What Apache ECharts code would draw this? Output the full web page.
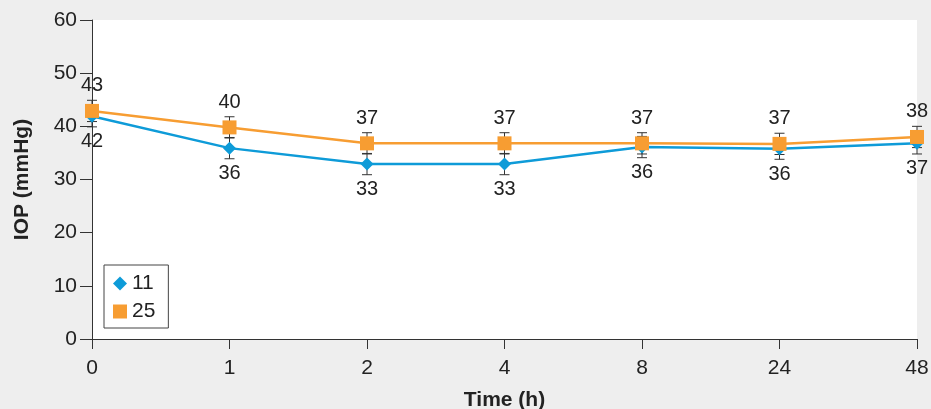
<!DOCTYPE html>
<html><head><meta charset="utf-8">
<script src="https://cdn.jsdelivr.net/npm/echarts@6/dist/echarts.min.js"></script>
<style>html,body{margin:0;padding:0;background:#eeeeee;}#c{width:931px;height:409px;}</style>
</head><body><div id="c"></div>
<script>
const categories = ['0','1','2','4','8','24','48'];
const yTicks = [0,10,20,30,40,50,60];
const series11 = [41.9, 35.9, 32.9, 32.9, 36.1, 35.8, 36.8];
const series25 = [42.9, 39.8, 36.8, 36.8, 36.8, 36.7, 38.0];
const err11 = [2, 2, 2, 2, 2, 2, 2];
const err25 = [2, 2, 2, 2, 2, 2, 2];

const FONT = 'Liberation Sans, Arial, Helvetica, sans-serif';
const BLUE = '#0e9bd8';
const ORANGE = '#f79d32';
const FS = 20;

function errData(vals, errs){ return vals.map((v,i)=>[i, v-errs[i], v+errs[i]]); }
function errRender(params, api){
  const x = api.value(0);
  const lo = api.coord([x, api.value(1)]);
  const hi = api.coord([x, api.value(2)]);
  const w = 5;
  const st = {stroke:'#333', lineWidth:1};
  return {type:'group', children:[
    {type:'line', shape:{x1:lo[0],y1:lo[1],x2:hi[0],y2:hi[1]}, style:st},
    {type:'line', shape:{x1:lo[0]-w,y1:lo[1],x2:lo[0]+w,y2:lo[1]}, style:st},
    {type:'line', shape:{x1:hi[0]-w,y1:hi[1],x2:hi[0]+w,y2:hi[1]}, style:st}
  ]};
}

const chart = echarts.init(document.getElementById('c'));
chart.setOption({
  backgroundColor:'#eeeeee',
  animation:false,
  textStyle:{fontFamily:FONT},
  grid:{left:92,right:14,top:20,bottom:70,show:true,backgroundColor:'#ffffff',borderWidth:0,
    containLabel:false, outerBoundsMode:'none'},
  legend:{
    orient:'vertical', left:104, top:265,
    padding:[8,13,6,9], itemGap:7, itemWidth:14, itemHeight:14,
    borderColor:'#444', borderWidth:1, backgroundColor:'#fff',
    textStyle:{fontFamily:FONT,fontSize:21,color:'#222'},
    data:[{name:'11',icon:'diamond'},{name:'25',icon:'rect'}]
  },
  xAxis:{
    type:'category', data:categories, boundaryGap:false,
    name:'Time (h)', nameLocation:'middle', nameGap:51,
    nameTextStyle:{fontFamily:FONT,fontSize:21,fontWeight:'bold',color:'#222'},
    axisLine:{lineStyle:{color:'#333',width:1}},
    axisTick:{show:true,length:10,alignWithLabel:true,lineStyle:{color:'#333'}},
    axisLabel:{fontFamily:FONT,fontSize:21,color:'#222',margin:19},
    splitLine:{show:false}
  },
  yAxis:{
    type:'value', min:0, max:60, interval:10,
    name:'IOP (mmHg)', nameLocation:'middle', nameGap:59, nameRotate:90,
    nameTextStyle:{fontFamily:FONT,fontSize:21,fontWeight:'bold',color:'#222'},
    axisLine:{show:true,lineStyle:{color:'#333',width:1}},
    axisTick:{show:true,length:12,lineStyle:{color:'#333'}},
    axisLabel:{fontFamily:FONT,fontSize:21,color:'#222',margin:15,
      formatter:v=>yTicks.indexOf(v)>=0?String(v):''},
    splitLine:{show:false}
  },
  series:[
    {type:'custom', name:'err11', renderItem:errRender, data:errData(series11,err11), z:1, silent:true, encode:{x:0,y:[1,2]}},
    {type:'custom', name:'err25', renderItem:errRender, data:errData(series25,err25), z:1, silent:true, encode:{x:0,y:[1,2]}},
    {type:'line', name:'11', data:series11, z:3,
      symbol:'diamond', symbolSize:13, itemStyle:{color:BLUE}, lineStyle:{color:BLUE,width:2.5},
      label:{show:true,position:'bottom',distance:9,fontFamily:FONT,fontSize:FS,color:'#222',
        formatter:p=>String(Math.round(p.value))}},
    {type:'line', name:'25', data:series25, z:4,
      symbol:'rect', symbolSize:14, itemStyle:{color:ORANGE}, lineStyle:{color:ORANGE,width:2.5},
      label:{show:true,position:'top',distance:8,fontFamily:FONT,fontSize:FS,color:'#222',
        formatter:p=>String(Math.round(p.value))}}
  ]
});
</script></body></html>
